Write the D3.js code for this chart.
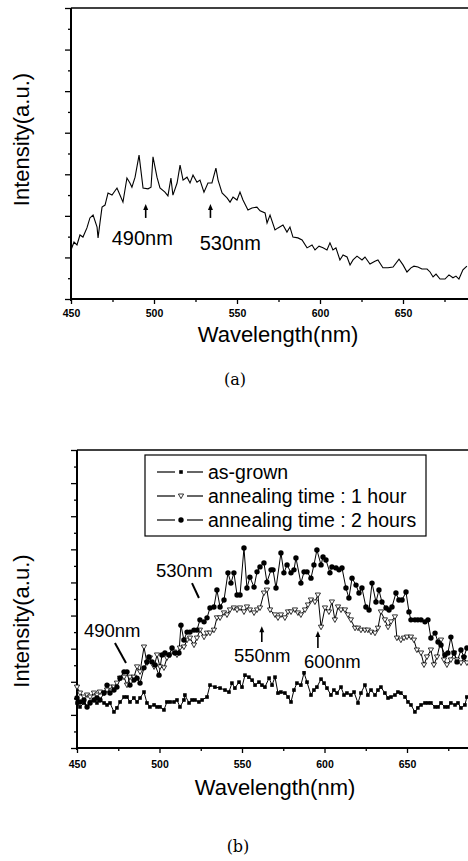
<!DOCTYPE html>
<html lang="en">
<head>
<meta charset="UTF-8">
<title>PL spectra</title>
<script src="https://d3js.org/d3.v7.min.js"></script>
<style>
  body { margin: 0; background: #fff; }
  svg { display: block; font-family: "Liberation Sans", Arial, sans-serif; }
</style>
</head>
<body>
<div id="chart"></div>
<script>
// ---- panel (a) data : wavelength (nm) / intensity (a.u.)
const topSpectrum = [
  [450,1.18],[451.8,1.37],[453.6,1.30],[455.4,1.54],[457.2,1.49],[459.6,1.71],[461.4,1.95],[463.3,2.02],
  [465.7,1.73],[466.3,1.47],[467.5,1.85],[468.7,2.21],[470.5,2.26],[472.3,2.55],[474.7,2.50],[477.7,2.67],
  [479.5,2.50],[481.3,2.33],[483.7,2.91],[485.5,2.79],[486.7,2.69],[488.6,2.93],[491.0,3.46],[493.4,2.67],
  [496.4,2.65],[498.2,2.69],[499.4,3.42],[501.8,2.93],[503.6,2.67],[506.6,2.57],[508.4,2.48],[510.2,2.91],
  [511.4,2.50],[513.9,2.79],[515.7,3.22],[517.5,2.86],[519.9,2.93],[521.7,2.79],[523.5,2.98],[525.9,2.81],
  [527.7,2.86],[530.1,2.57],[532.5,2.79],[534.9,2.79],[537.3,3.15],[538.6,2.86],[541.0,2.55],[544.0,2.43],
  [545.8,2.33],[547.6,2.45],[550.0,2.38],[551.8,2.57],[553.6,2.38],[556.6,2.14],[559.0,2.19],[562.0,2.21],
  [563.9,2.12],[566.9,2.07],[568.1,1.83],[569.9,2.02],[572.9,1.66],[574.7,1.71],[577.7,1.78],[580.1,1.61],
  [581.9,1.73],[583.7,1.49],[586.7,1.47],[589.2,1.42],[592.2,1.23],[595.2,1.30],[597.0,1.18],[599.4,1.27],
  [601.8,1.23],[604.2,1.18],[606.0,1.35],[607.8,1.18],[609.6,1.23],[612.0,0.94],[613.9,1.06],[616.3,1.01],
  [618.1,0.82],[619.9,0.94],[622.3,1.03],[625.3,0.94],[627.1,1.01],[630.1,0.84],[633.1,0.91],[634.9,0.94],
  [637.9,0.75],[641.0,0.75],[644.0,0.77],[647.6,0.96],[650.0,0.82],[652.4,0.65],[654.8,0.75],[656.6,0.79],
  [659.0,0.77],[661.4,0.72],[664.5,0.72],[666.3,0.65],[668.1,0.53],[669.9,0.60],[672.3,0.48],[675.3,0.48],
  [677.7,0.58],[680.1,0.51],[681.9,0.55],[683.7,0.48],[686.1,0.70],[688.5,0.79]
];
const topArrows = [ { label: "490nm", x: 495, tx: 474.5, ty: 1.30 },
                    { label: "530nm", x: 534, tx: 527.5, ty: 1.18 } ];

// ---- panel (b) data
const asGrown = [
  [450,1.36],[451.8,1.24],[454.2,1.36],[456.1,1.24],[457.9,1.39],[460.3,1.45],[462.1,1.36],[463.9,1.45],
  [466.4,1.36],[468.2,1.30],[470.0,1.36],[472.4,1.09],[474.2,1.21],[476.1,1.39],[478.5,1.54],[480.3,1.54],
  [482.1,1.39],[484.5,1.51],[486.4,1.39],[488.2,1.51],[490.6,1.69],[492.4,1.36],[494.2,1.24],[496.7,1.30],
  [498.5,1.24],[500.3,1.24],[502.7,1.15],[504.5,1.39],[506.4,1.39],[508.8,1.39],[510.6,1.45],[512.4,1.24],
  [514.8,1.45],[515.4,1.60],[517.9,1.36],[519.7,1.45],[521.5,1.45],[523.9,1.39],[525.8,1.45],[528.8,1.54],
  [530.6,1.90],[533.6,1.84],[536.7,1.81],[539.7,1.75],[542.1,1.69],[543.9,1.96],[545.7,1.81],[548.2,1.99],
  [550.0,1.84],[551.8,2.20],[554.2,2.14],[556.1,2.05],[557.9,1.90],[560.3,1.99],[562.1,1.90],[563.9,1.84],
  [566.4,2.11],[568.2,1.90],[570.0,2.14],[571.8,1.66],[573.6,1.69],[576.0,1.66],[577.9,1.54],[579.7,1.39],
  [581.5,1.75],[583.3,1.96],[585.7,1.90],[587.6,2.27],[589.4,1.99],[591.8,1.60],[593.6,1.75],[595.4,1.84],
  [597.9,2.08],[599.7,1.96],[601.5,1.81],[603.9,1.60],[605.7,1.75],[607.6,1.66],[610.0,1.84],[611.8,1.60],
  [613.6,1.66],[616.0,1.60],[617.9,1.69],[620.3,1.36],[622.1,1.66],[624.5,1.90],[626.3,1.60],[628.2,1.75],
  [630.6,1.60],[632.4,1.75],[634.2,1.84],[636.6,1.66],[638.5,1.51],[640.3,1.54],[642.7,1.60],[644.5,1.69],
  [646.3,1.66],[648.8,1.54],[650.6,1.39],[652.4,1.30],[654.8,1.09],[656.6,1.21],[658.5,1.30],[660.9,1.36],
  [662.7,1.36],[664.5,1.36],[667.0,1.24],[668.8,1.24],[670.6,1.36],[673.0,1.24],[674.8,1.24],[676.6,1.36],
  [679.1,1.30],[680.9,1.36],[682.7,1.21],[685.1,1.30],[686.3,1.54]
];
const anneal1h = [
  [450,1.84],[451.8,1.66],[454.2,1.54],[456.1,1.60],[457.9,1.54],[460.3,1.66],[462.1,1.60],[463.9,1.69],
  [466.4,1.66],[468.2,1.75],[470.0,1.84],[472.4,1.84],[474.2,1.96],[476.1,2.11],[478.5,2.14],[480.3,1.90],
  [482.1,2.14],[484.5,2.14],[486.4,2.45],[488.2,2.30],[490.6,3.05],[492.4,2.57],[494.2,2.72],[496.7,2.45],
  [498.5,2.81],[500.3,2.45],[502.7,2.42],[504.5,2.72],[506.4,2.81],[508.8,2.90],[510.6,2.81],[512.4,3.02],
  [514.8,3.05],[516.7,3.26],[518.5,3.32],[520.9,3.11],[522.7,3.32],[524.5,3.56],[527.0,3.35],[528.8,3.47],
  [530.6,3.47],[533.0,3.56],[534.8,3.93],[536.7,3.93],[539.1,4.08],[540.9,4.02],[542.7,4.17],[545.1,4.23],
  [547.0,4.17],[548.8,4.23],[551.2,4.11],[553.0,4.26],[554.8,4.17],[557.3,4.08],[559.1,4.17],[560.9,4.23],
  [563.3,4.68],[565.1,4.77],[567.0,4.17],[570.0,4.02],[571.8,3.93],[573.6,4.02],[576.0,3.93],[577.9,4.11],
  [579.7,4.11],[582.1,4.17],[583.9,4.08],[585.7,4.02],[588.2,4.17],[590.0,4.32],[591.8,4.47],[594.2,4.41],
  [596.0,4.62],[597.9,3.65],[600.3,4.23],[602.7,4.11],[604.5,4.41],[606.3,3.87],[608.2,4.26],[610.0,4.17],
  [612.4,4.17],[614.2,4.02],[616.0,3.87],[618.5,3.62],[620.3,3.62],[622.1,3.56],[624.5,3.56],[626.3,3.56],
  [628.2,3.50],[630.6,3.47],[632.4,3.62],[634.2,4.11],[636.6,3.87],[638.5,3.65],[640.3,3.81],[642.7,3.96],
  [643.9,3.32],[646.3,3.26],[648.2,3.32],[650.0,3.35],[652.4,3.35],[654.2,3.26],[656.0,2.96],[658.5,2.87],
  [660.3,2.51],[662.1,2.75],[664.5,2.96],[666.3,2.51],[668.2,2.75],[670.6,3.26],[672.4,2.66],[674.2,2.51],
  [676.6,2.66],[678.5,2.87],[680.3,2.66],[682.7,2.57],[684.5,2.72],[686.3,2.57]
];
const anneal2h = [
  [450,1.51],[451.8,1.39],[454.2,1.45],[456.1,1.24],[457.9,1.36],[460.3,1.45],[462.1,1.51],[463.9,1.45],
  [466.4,1.66],[468.2,1.90],[470.0,1.66],[472.4,1.75],[474.2,1.84],[476.1,2.11],[478.5,2.30],[480.3,2.30],
  [482.1,1.90],[484.5,2.05],[486.4,2.11],[488.2,1.96],[490.6,2.42],[492.4,2.60],[493.6,2.75],[495.5,2.60],
  [497.3,2.51],[499.7,2.20],[501.5,2.81],[503.3,2.87],[505.8,2.81],[507.6,3.02],[509.4,2.87],[511.8,2.87],
  [513.0,3.71],[514.8,3.26],[516.7,3.50],[518.5,3.50],[520.9,3.56],[522.7,3.56],[524.5,3.87],[527.0,3.81],
  [528.8,3.93],[530.6,4.23],[533.0,4.26],[534.8,4.77],[536.7,4.26],[539.1,4.47],[541.5,5.29],[543.3,4.98],
  [545.1,5.29],[547.0,4.62],[548.8,4.62],[551.2,6.04],[553.0,4.83],[554.8,5.16],[557.3,4.86],[559.1,5.32],
  [560.9,5.47],[563.3,5.59],[565.1,5.01],[567.6,5.38],[568.8,5.38],[570.6,4.83],[573.6,5.89],[575.4,5.29],
  [577.3,5.53],[579.7,5.29],[581.5,5.38],[582.7,5.74],[585.7,4.98],[587.6,5.32],[589.4,5.32],[591.8,5.13],
  [593.6,5.53],[595.4,5.98],[597.9,5.53],[599.1,5.77],[600.9,5.68],[603.3,5.29],[604.5,5.47],[607.0,5.44],
  [608.8,5.38],[610.6,5.44],[613.0,4.83],[614.8,4.53],[616.7,5.13],[619.1,4.92],[620.9,4.68],[622.7,4.83],
  [625.1,4.26],[627.0,4.17],[628.8,4.98],[631.2,4.41],[633.0,4.77],[634.8,4.41],[637.3,4.23],[639.1,4.17],
  [640.9,4.26],[643.3,4.68],[645.1,4.47],[647.0,4.47],[649.4,4.71],[651.2,4.11],[652.4,3.87],[654.8,3.87],
  [656.6,3.87],[658.5,3.87],[660.9,3.81],[662.7,3.87],[664.5,3.32],[667.0,3.47],[668.8,3.20],[670.6,3.11],
  [673.0,2.81],[674.8,2.87],[676.6,3.35],[678.5,2.87],[680.3,2.60],[682.7,2.96],[684.5,2.75],[686.3,3.02]
];
const legendLabels = ["as-grown", "annealing time : 1 hour", "annealing time : 2 hours"];
const xTickValues = [450, 500, 550, 600, 650];
const botPointers = [ { label: "530nm", tx: 497.9, ty: 5.16, line: [[519.7, 4.98], [523.9, 4.53]] },
                      { label: "490nm", tx: 454.2, ty: 3.35, line: [[473.0, 3.17], [479.7, 2.57]] } ];
const botArrows = [ { label: "550nm", x: 562, tx: 545.1, ty: 2.60, y0: 3.20, y1: 3.65 },
                    { label: "600nm", x: 596, tx: 587.6, ty: 2.42, y0: 3.02, y1: 3.50 } ];

const svg = d3.select("#chart").append("svg")
  .attr("width", 468).attr("height", 861);

// draws frame, axes and ticks of one panel
function panel(box, yMax) {
  const x = d3.scaleLinear().domain([450, 690]).range([box.left, box.right]);
  const y = d3.scaleLinear().domain([0, yMax]).range([box.bottom, box.top]);
  const g = svg.append("g");

  // x axis
  const xAxis = g.append("g").attr("transform", `translate(0,${box.bottom})`);
  xAxis.call(d3.axisBottom(x).tickValues(xTickValues).tickSize(5).tickFormat(d3.format("d")));
  xAxis.append("g").call(d3.axisBottom(x).tickValues(d3.range(475, 690, 50)).tickSize(3).tickFormat(""));
  xAxis.selectAll(".domain").remove();
  xAxis.selectAll("text").attr("font-size", 10.5).attr("font-weight", "bold")
    .attr("font-family", "Liberation Sans, Arial, sans-serif").attr("dy", box.tickDy);

  // y axis (no labels)
  const yAxis = g.append("g").attr("transform", `translate(${box.left},0)`);
  yAxis.call(d3.axisLeft(y).tickValues(d3.range(0, yMax + 0.01, 1)).tickSize(6).tickFormat(""));
  yAxis.append("g").call(d3.axisLeft(y).tickValues(d3.range(0.5, yMax, 1)).tickSize(3).tickFormat(""));
  yAxis.selectAll(".domain").remove();
  g.selectAll(".tick line").attr("stroke-width", 1.3);

  // frame
  g.append("line").attr("x1", box.left).attr("x2", 468).attr("y1", box.top).attr("y2", box.top)
    .attr("stroke", "#000").attr("stroke-width", 1.5);
  g.append("line").attr("x1", box.left).attr("x2", 468).attr("y1", box.bottom).attr("y2", box.bottom)
    .attr("stroke", "#000").attr("stroke-width", 1.8);
  g.append("line").attr("x1", box.left).attr("x2", box.left).attr("y1", box.top).attr("y2", box.bottom + 2)
    .attr("stroke", "#000").attr("stroke-width", 2);

  // axis titles
  g.append("text").attr("x", box.titleX).attr("y", box.bottom + box.titleDy)
    .attr("text-anchor", "middle").attr("font-size", 22).text("Wavelength(nm)");
  g.append("text").attr("transform", `translate(${box.yTitleX},${(box.top + box.bottom) / 2 + box.yTitleShift}) rotate(-90)`)
    .attr("text-anchor", "middle").attr("font-size", 22).text("Intensity(a.u.)");
  return { x, y };
}

function arrowUp(x, y, xv, y0, y1) {
  svg.append("line").attr("x1", x(xv)).attr("x2", x(xv)).attr("y1", y(y0)).attr("y2", y(y1) + 3)
    .attr("stroke", "#000").attr("stroke-width", 1.6);
  svg.append("path")
    .attr("d", `M${x(xv) - 2.5},${y(y1) + 5} L${x(xv)},${y(y1) - 1} L${x(xv) + 2.5},${y(y1) + 5} Z`)
    .attr("fill", "#000");
}

// ---- panel (a)
const A = panel({ left: 71, right: 469.4, top: 8, bottom: 299, titleX: 278, titleDy: 43,
                  tickDy: "0.95em", yTitleX: 29, yTitleShift: -14 }, 7);
svg.append("path").datum(topSpectrum)
  .attr("d", d3.line().x(d => A.x(d[0])).y(d => A.y(d[1])))
  .attr("fill", "none").attr("stroke", "#000").attr("stroke-width", 1.1);
topArrows.forEach(a => {
  arrowUp(A.x, A.y, a.x, 1.95, 2.26);
  svg.append("text").attr("x", A.x(a.tx)).attr("y", A.y(a.ty)).attr("font-size", 20).text(a.label);
});
svg.append("text").attr("x", 235).attr("y", 385).attr("text-anchor", "middle")
  .attr("font-family", "DejaVu Serif, serif").attr("font-size", 16).text("(a)");

// ---- panel (b)
const B = panel({ left: 77, right: 473, top: 450, bottom: 748, titleX: 275, titleDy: 47,
                  tickDy: "1.15em", yTitleX: 29, yTitleShift: 22 }, 9);
const line = d3.line().x(d => B.x(d[0])).y(d => B.y(d[1]));
const series = [asGrown, anneal1h, anneal2h];
series.forEach(s => {
  svg.append("path").datum(s).attr("d", line)
    .attr("fill", "none").attr("stroke", "#000").attr("stroke-width", 1);
});

const triangle = "M-2.6,-2 L2.6,-2 L0,2.6 Z";
function marker(sel, kind) {
  if (kind === 0) sel.append("rect").attr("x", -1.8).attr("y", -1.8).attr("width", 3.6).attr("height", 3.6).attr("fill", "#000");
  else if (kind === 1) sel.append("path").attr("d", triangle).attr("fill", "#fff").attr("stroke", "#000").attr("stroke-width", 0.8);
  else sel.append("circle").attr("r", 2.7).attr("fill", "#000");
}
series.forEach((s, k) => {
  svg.append("g").selectAll("g").data(s).join("g")
    .attr("transform", d => `translate(${B.x(d[0])},${B.y(d[1])})`)
    .each(function () { marker(d3.select(this), k); });
});

botPointers.forEach(p => {
  svg.append("text").attr("x", B.x(p.tx)).attr("y", B.y(p.ty)).attr("font-size", 18.5).text(p.label);
  svg.append("line").attr("x1", B.x(p.line[0][0])).attr("y1", B.y(p.line[0][1]))
    .attr("x2", B.x(p.line[1][0])).attr("y2", B.y(p.line[1][1]))
    .attr("stroke", "#000").attr("stroke-width", 2);
});
botArrows.forEach(a => {
  arrowUp(B.x, B.y, a.x, a.y0, a.y1);
  svg.append("text").attr("x", B.x(a.tx)).attr("y", B.y(a.ty)).attr("font-size", 18.5).text(a.label);
});

// legend
const lg = svg.append("g").attr("transform", "translate(145,455)");
lg.append("rect").attr("width", 281).attr("height", 81).attr("fill", "#fff")
  .attr("stroke", "#000").attr("stroke-width", 1.2);
legendLabels.forEach((t, i) => {
  const row = lg.append("g").attr("transform", `translate(0,${17 + i * 24})`);
  row.append("line").attr("x1", 12).attr("x2", 30).attr("stroke", "#000").attr("stroke-width", 1.2);
  row.append("line").attr("x1", 42).attr("x2", 58).attr("stroke", "#000").attr("stroke-width", 1.2);
  marker(row.append("g").attr("transform", "translate(36,0)"), i);
  row.append("text").attr("x", 63).attr("y", 7).attr("font-size", 19.5).text(t);
});

svg.append("text").attr("x", 238).attr("y", 852).attr("text-anchor", "middle")
  .attr("font-family", "DejaVu Serif, serif").attr("font-size", 16).text("(b)");
</script>
</body>
</html>
